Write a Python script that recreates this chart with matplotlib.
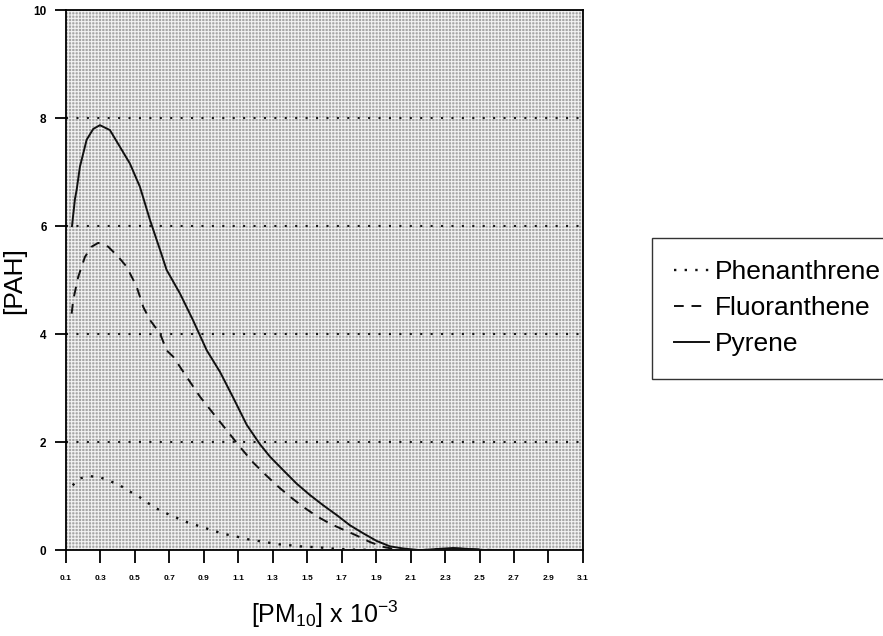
import matplotlib
matplotlib.use("Agg")
import matplotlib.pyplot as plt
from matplotlib.patches import Rectangle

plt.rcParams["font.family"] = ["Liberation Sans", "DejaVu Sans"]
plt.rcParams["hatch.linewidth"] = 0.8
plt.rcParams["hatch.color"] = "#f2f2f2"

# Curves
phen_x = [0.139, 0.181, 0.239, 0.297, 0.355, 0.413, 0.462, 0.52, 0.572, 0.626, 0.684,
          0.742, 0.8, 0.859, 0.917, 0.975, 1.033, 1.091, 1.158, 1.216, 1.274, 1.332,
          1.4, 1.458, 1.516, 1.574, 1.642, 1.7, 1.758, 2.0, 2.2, 2.6]
phen_y = [1.2, 1.33, 1.37, 1.35, 1.28, 1.2, 1.1, 1.0, 0.88, 0.77, 0.68,
          0.6, 0.52, 0.46, 0.4, 0.34, 0.29, 0.25, 0.2, 0.17, 0.14, 0.11,
          0.09, 0.07, 0.06, 0.05, 0.03, 0.02, 0.01, 0.0, -0.02, 0.0]

fluo_x = [0.133, 0.142, 0.171, 0.21, 0.249, 0.287, 0.345, 0.404, 0.452, 0.51, 0.549,
          0.588, 0.646, 0.684, 0.723, 0.8, 0.878, 0.955, 1.033, 1.11, 1.187, 1.25,
          1.323, 1.4, 1.477, 1.555, 1.632, 1.709, 1.787, 1.864, 1.942, 2.019, 2.155,
          2.35, 2.6]
fluo_y = [4.38, 4.63, 5.06, 5.43, 5.62, 5.69, 5.62, 5.43, 5.25, 4.88, 4.5,
          4.26, 4.01, 3.7, 3.58, 3.21, 2.84, 2.53, 2.22, 1.91, 1.62, 1.42,
          1.2, 0.99, 0.8, 0.63, 0.49, 0.38, 0.27, 0.15, 0.06, 0.01, 0.0,
          0.03, 0.0]

pyr_x = [0.135, 0.152, 0.162, 0.181, 0.22, 0.258, 0.297, 0.355, 0.413, 0.471, 0.529,
         0.588, 0.646, 0.684, 0.762, 0.837, 0.917, 0.994, 1.071, 1.149, 1.226, 1.284,
         1.361, 1.439, 1.516, 1.593, 1.671, 1.748, 1.826, 1.903, 1.98, 2.058, 2.155,
         2.346, 2.542, 2.658]
pyr_y = [6.0, 6.5, 6.67, 7.1, 7.6, 7.8, 7.87, 7.78, 7.47, 7.16, 6.73,
         6.11, 5.56, 5.19, 4.75, 4.26, 3.7, 3.3, 2.82, 2.32, 1.96, 1.73,
         1.48, 1.23, 1.02, 0.83, 0.65, 0.46, 0.31, 0.17, 0.07, 0.03, 0.0,
         0.04, 0.0, 0.0]

x_ticks = [0.1, 0.3, 0.5, 0.7, 0.9, 1.1, 1.3, 1.5, 1.7, 1.9, 2.1, 2.3, 2.5, 2.7, 2.9, 3.1]
y_ticks = [0, 2, 4, 6, 8, 10]

fig = plt.figure(figsize=(8.83, 6.36), dpi=100)
ax = fig.add_axes([0.0747, 0.135, 0.5855, 0.849])

# stippled grey background
ax.set_facecolor("#a6a6a6")
ax.add_patch(Rectangle((0.1, 0), 3.0, 10, facecolor="none",
                       hatch="+++++", linewidth=0, zorder=0))

for g in [2, 4, 6, 8]:
    ax.axhline(g, color="#1a1a1a", linestyle=(0, (1, 4)), linewidth=1.5, zorder=1)

ax.plot(phen_x, phen_y, color="#111111", linestyle=(0, (1, 3.5)), linewidth=1.7,
        label="Phenanthrene", zorder=3)
ax.plot(fluo_x, fluo_y, color="#111111", linestyle=(0, (5, 4)), linewidth=1.4,
        label="Fluoranthene", zorder=3)
ax.plot(pyr_x, pyr_y, color="#111111", linestyle="-", linewidth=1.4,
        label="Pyrene", zorder=3)

ax.set_xlim(0.1, 3.1)
ax.set_ylim(0, 10)
ax.set_xticks(x_ticks)
ax.set_xticklabels([f"{t:.1f}" for t in x_ticks], fontsize=6, fontweight="bold")
ax.set_yticks(y_ticks)
ax.set_yticklabels([str(t) for t in y_ticks], fontsize=8.5, fontweight="bold")
ax.tick_params(axis="x", direction="out", length=9, width=1.3, pad=9)
ax.tick_params(axis="y", direction="out", length=8, width=1.3, pad=6)
for s in ax.spines.values():
    s.set_linewidth(1.3)

ax.set_ylabel("[PAH]", fontsize=19, labelpad=5)
ax.set_xlabel(r"[PM$_{\mathregular{10}}$] x 10$^{\mathregular{-3}}$", fontsize=18, labelpad=12)

leg = fig.legend(loc="upper left", bbox_to_anchor=(0.7384, 0.6258), borderaxespad=0,
                 fontsize=19, frameon=True, fancybox=False, edgecolor="black",
                 handlelength=1.3, handletextpad=0.25, labelspacing=0.45,
                 borderpad=0.85)
leg.get_frame().set_linewidth(1.0)

fig.savefig("out.png", dpi=100)
